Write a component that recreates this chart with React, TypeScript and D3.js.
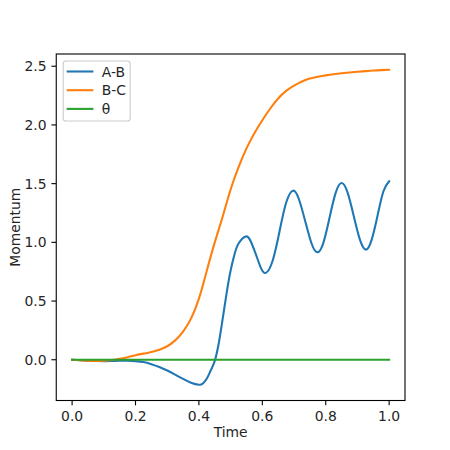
import React from "react";
import * as d3 from "d3";

// A-B series (time, momentum)
const timeAB = [
  0, 0.025, 0.05, 0.075, 0.1, 0.125, 0.15, 0.175, 0.2, 0.225, 0.25, 0.275, 0.3, 0.325,
  0.35, 0.375, 0.4, 0.4125, 0.425, 0.4375, 0.45, 0.4625, 0.475, 0.4875, 0.5, 0.5125, 0.525,
  0.548, 0.564, 0.58, 0.595, 0.611, 0.6325, 0.654, 0.675, 0.697, 0.716, 0.7355, 0.755, 0.774,
  0.793, 0.812, 0.831, 0.85, 0.869, 0.8885, 0.908, 0.927, 0.945, 0.9635, 0.982, 1.0,
];
const momentumAB = [
  0, -0.003, -0.008, -0.011, -0.012, -0.011, -0.009, -0.009, -0.012, -0.02, -0.038, -0.062,
  -0.092, -0.127, -0.163, -0.196, -0.213, -0.202, -0.16, -0.09, -0.01, 0.14, 0.35, 0.57, 0.76,
  0.9, 0.99, 1.05, 1.005, 0.895, 0.785, 0.74, 0.843, 1.09, 1.337, 1.44, 1.363, 1.178, 0.992,
  0.915, 1.0, 1.21, 1.419, 1.505, 1.423, 1.222, 1.021, 0.938, 1.023, 1.229, 1.435, 1.52,
];

// B-C series
const timeBC = [
  0, 0.025, 0.05, 0.075, 0.1, 0.125, 0.15, 0.175, 0.2, 0.225, 0.25, 0.275, 0.3, 0.325, 0.35,
  0.375, 0.4, 0.425, 0.45, 0.475, 0.5, 0.525, 0.55, 0.575, 0.6, 0.625, 0.65, 0.675, 0.7,
  0.725, 0.75, 0.775, 0.8, 0.825, 0.85, 0.875, 0.9, 0.925, 0.95, 0.975, 1.0,
];
const momentumBC = [
  0, -0.004, -0.008, -0.01, -0.008, -0.002, 0.008, 0.022, 0.038, 0.052, 0.066, 0.086, 0.115,
  0.165, 0.24, 0.35, 0.52, 0.76, 1.0, 1.22, 1.45, 1.64, 1.8, 1.93, 2.04, 2.14, 2.225, 2.29,
  2.335, 2.37, 2.395, 2.41, 2.422, 2.432, 2.44, 2.447, 2.453, 2.458, 2.463, 2.467, 2.47,
];

// θ series
const timeTheta = [0, 1];
const momentumTheta = [0, 0];

const xTicks = [0, 0.2, 0.4, 0.6, 0.8, 1.0];
const yTicks = [0, 0.5, 1.0, 1.5, 2.0, 2.5];

const series = [
  { label: "A-B", color: "#1f77b4", t: timeAB, v: momentumAB },
  { label: "B-C", color: "#ff7f0e", t: timeBC, v: momentumBC },
  { label: "θ", color: "#2ca02c", t: timeTheta, v: momentumTheta },
];

const W = 450;
const H = 450;
const left = 56.25, right = 405, top = 54, bottom = 400.5;
const font = "'DejaVu Sans', sans-serif";
const fs = 13.9;
const tickLen = 4.86;

export default function App() {
  const allV = [...momentumAB, ...momentumBC, ...momentumTheta];
  const [vMin, vMax] = d3.extent(allV) as [number, number];
  const pad = (vMax - vMin) * 0.05;

  const x = d3.scaleLinear().domain([-0.05, 1.05]).range([left, right]);
  const y = d3.scaleLinear().domain([vMin - pad, vMax + pad]).range([bottom, top]);

  const line = d3
    .line<[number, number]>()
    .x(d => x(d[0]))
    .y(d => y(d[1]))
    .curve(d3.curveNatural);

  const lx = 63.2, ly = 61, lw = 67, lh = 60;

  return (
    <svg
      width={W}
      height={H}
      style={{ position: "absolute", left: 0, top: 0, background: "#fff" }}
      fontFamily={font}
    >
      <rect x={0} y={0} width={W} height={H} fill="#fff" />

      {series.map(s => (
        <path
          key={s.label}
          d={line(s.t.map((t, i) => [t, s.v[i]] as [number, number])) || ""}
          fill="none"
          stroke={s.color}
          strokeWidth={2.08}
          strokeLinecap="square"
          strokeLinejoin="round"
        />
      ))}

      {/* spines */}
      <rect
        x={left}
        y={top}
        width={right - left}
        height={bottom - top}
        fill="none"
        stroke="#000"
        strokeWidth={1.1}
      />

      {/* x axis */}
      {xTicks.map(t => (
        <g key={"x" + t} transform={`translate(${x(t)},${bottom})`}>
          <line y2={tickLen} stroke="#000" strokeWidth={1.1} />
          <text y={tickLen + 4.86 + fs * 0.76} textAnchor="middle" fontSize={fs} fill="#262626">
            {t.toFixed(1)}
          </text>
        </g>
      ))}
      <text x={(left + right) / 2} y={437} textAnchor="middle" fontSize={fs} fill="#262626">
        Time
      </text>

      {/* y axis */}
      {yTicks.map(t => (
        <g key={"y" + t} transform={`translate(${left},${y(t)})`}>
          <line x2={-tickLen} stroke="#000" strokeWidth={1.1} />
          <text
            x={-tickLen - 4.86}
            dy="0.36em"
            textAnchor="end"
            fontSize={fs}
            fill="#262626"
          >
            {t.toFixed(1)}
          </text>
        </g>
      ))}
      <text
        transform={`translate(20,${(top + bottom) / 2}) rotate(-90)`}
        textAnchor="middle"
        fontSize={fs}
        fill="#262626"
      >
        Momentum
      </text>

      {/* legend */}
      <rect
        x={lx}
        y={ly}
        width={lw}
        height={lh}
        rx={2.8}
        fill="#fff"
        fillOpacity={0.8}
        stroke="#cccccc"
        strokeWidth={1.1}
      />
      {series.map((s, i) => (
        <g key={"lg" + s.label} transform={`translate(${lx + 3.5},${ly + 10.5 + i * 18.7})`}>
          <line x1={0} x2={26.7} stroke={s.color} strokeWidth={2.08} />
          <text x={35} dy="0.36em" fontSize={fs} fill="#262626">
            {s.label}
          </text>
        </g>
      ))}
    </svg>
  );
}
